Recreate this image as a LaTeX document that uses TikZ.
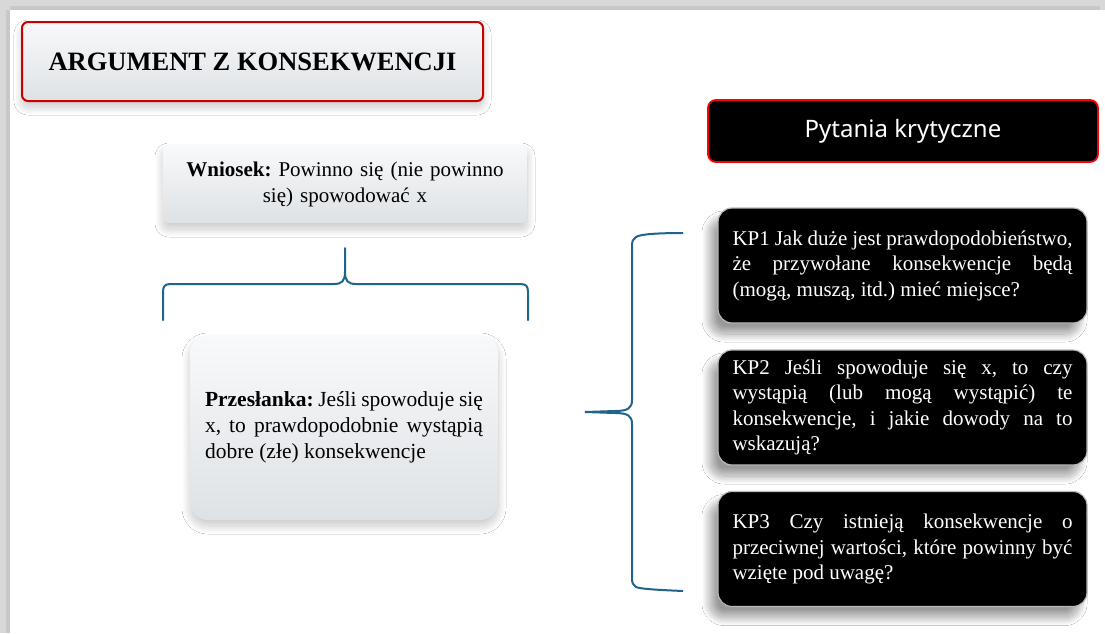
\documentclass[tikz,border=0pt]{standalone}
\usepackage{fontspec}
\setmainfont{Liberation Serif}
\newfontfamily\pytfont{Noto Sans}
\usetikzlibrary{shadows.blur}
\definecolor{bracecol}{RGB}{31,100,138}
\definecolor{redb}{RGB}{200,0,0}
\definecolor{lightA}{RGB}{248,249,250}
\definecolor{lightB}{RGB}{222,226,229}
\definecolor{framegray}{RGB}{200,200,200}
\newcommand\nohyph{\frenchspacing\hyphenpenalty=10000\exhyphenpenalty=10000\tolerance=9999}
\begin{document}
\begin{tikzpicture}[x=1pt,y=-1pt,
  lightbox/.style={rounded corners=6pt, top color=lightA, bottom color=lightB,
    blur shadow={shadow xshift=0pt, shadow yshift=-6pt, shadow blur radius=8pt, shadow blur steps=25, shadow opacity=22}},
  titlebox/.style={lightbox, draw=redb, line width=2pt, font=\fontsize{26.5}{30}\selectfont\bfseries},
  darkbox/.style={rounded corners=14pt, fill=black, draw=gray!55, line width=1.2pt, text=white,
    text width=340pt, align=justify, inner xsep=14.5pt, minimum width=369pt, minimum height=115pt,
    font=\fontsize{21}{25.5}\selectfont\nohyph,
    blur shadow={shadow xshift=-8pt, shadow yshift=-11pt, shadow blur radius=8pt, shadow blur steps=25, shadow opacity=40}},
  headbox/.style={rounded corners=8pt, fill=black, draw=red, line width=1.8pt, text=white,
    minimum width=390pt, minimum height=62pt, font=\pytfont\fontsize{24}{28}\selectfont},
  bodytext/.style={font=\fontsize{21.5}{26}\selectfont\nohyph},
  brace/.style={draw=bracecol, line width=2pt}
]
\useasboundingbox (0,0) rectangle (1105,633);
\fill[white] (0,0) rectangle (1105,633);
% frame
\fill[framegray!70] (0,0) rectangle (1105,10);
\fill[framegray] (10,6) rectangle (1100,10);
\fill[framegray!70] (0,0) rectangle (10,633);
\fill[framegray] (6,10) rectangle (10,633);

% title
\node[titlebox, minimum width=461pt, minimum height=79pt] (title) at (252.5,61.5) {ARGUMENT Z KONSEKWENCJI};

% Wniosek
\node[lightbox, bodytext, font=\fontsize{21}{26}\selectfont\nohyph, minimum width=364pt, minimum height=78pt, text width=345pt, align=center] (wniosek) at (345,184)
  {\textbf{Wniosek:} Powinno się (nie powinno\\się) spowodować x};

% Przesłanka
\node[lightbox, rounded corners=18pt, bodytext, minimum width=308pt, minimum height=185pt, text width=278pt, align=justify, inner xsep=15pt] (przes) at (344,427.5)
  {\textbf{Przesłanka:} Jeśli spowoduje się x, to prawdopodobnie wystąpią dobre (złe) konsekwencje};

% horizontal brace
\coordinate (hbL) at (163,320);
\coordinate (hbR) at (528,320);
\coordinate (hbT) at (345,248);
\draw[brace, line cap=round] (hbL) -- (163,292) .. controls (163,286) and (165,284) .. (171,284) -- (334,284)
  .. controls (342,284) and (345,281) .. (345,272) -- (hbT);
\draw[brace, line cap=round] (hbR) -- (528,292) .. controls (528,286) and (526,284) .. (520,284) -- (356,284)
  .. controls (348,284) and (345,281) .. (345,272);

% Pytania
\node[headbox] (pyt) at (903,131) {Pytania krytyczne};

% KP boxes
\node[darkbox] (kp1) at (902.5,265.5) {KP1 Jak duże jest prawdopodobieństwo, że przywołane konsekwencje będą (mogą, muszą, itd.) mieć miejsce?};
\node[darkbox] (kp2) at (902.5,407.5) {KP2 Jeśli spowoduje się x, to czy wystąpią (lub mogą wystąpić) te konsekwencje, i jakie dowody na to wskazują?};
\node[darkbox] (kp3) at (902.5,549) {KP3 Czy istnieją konsekwencje o przeciwnej wartości, które powinny być wzięte pod uwagę?};

% vertical brace
\coordinate (vbT) at (683,233);
\coordinate (vbB) at (683,591);
\coordinate (vbM) at (585,412);
\draw[brace] (vbT) .. controls (660,233) and (640,234) .. (636,237) .. controls (633,239) and (632,241) .. (632,246)
  -- (632,400) .. controls (632,408) and (628,411) .. (615,411) -- (vbM);
\draw[brace] (vbB) .. controls (660,590) and (640,589) .. (636,587) .. controls (633,585) and (632,583) .. (632,578)
  -- (632,424) .. controls (632,416) and (628,413) .. (615,413) -- (vbM);
\end{tikzpicture}
\end{document}
